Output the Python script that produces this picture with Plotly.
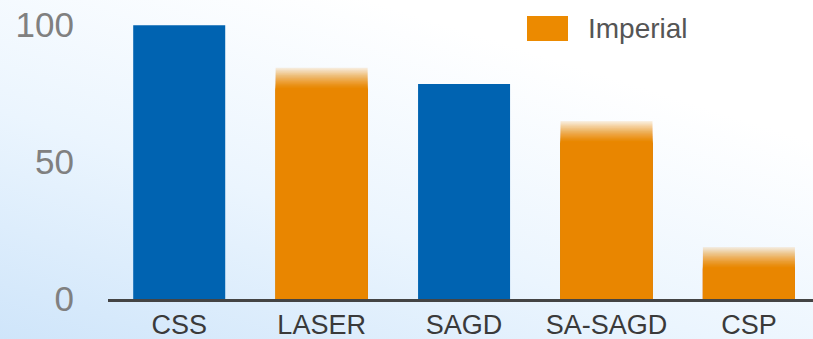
import base64
import plotly.graph_objects as go

# ---- data ----
categories = ["CSS", "LASER", "SAGD", "SA-SAGD", "CSP"]
values = [100, 84.5, 78.5, 65, 19]
is_imperial = [False, True, False, True, True]
y_tick_vals = [0, 50, 100]
y_tick_text = ["0", "50", "100"]
legend_label = "Imperial"

# ---- style ----
W, H = 813, 339
ML, MR, MT, MB = 108, 0, 0, 40
PW, PH = W - ML - MR, H - MT - MB
BLUE = (0, 99, 177)
ORANGE = (236, 138, 0)
FADE = 8.0      # depth (data units) of the faded top on orange bars
NSEG = 24

def rgba(c, a=1.0):
    return f"rgba({c[0]},{c[1]},{c[2]},{a:.4f})"

fig = go.Figure()

# blue bars
bx = [c for c, imp in zip(categories, is_imperial) if not imp]
by = [v for v, imp in zip(values, is_imperial) if not imp]
fig.add_trace(go.Bar(x=bx, y=by, marker=dict(color=rgba(BLUE), line=dict(width=0)),
                     showlegend=False, hoverinfo="x+y"))

# orange bars: solid part + faded top built from overlapping translucent layers
ox = [c for c, imp in zip(categories, is_imperial) if imp]
oy = [v for v, imp in zip(values, is_imperial) if imp]
fig.add_trace(go.Bar(x=ox, y=[v - FADE for v in oy], name=legend_label,
                     marker=dict(color=rgba(ORANGE), line=dict(width=0)),
                     showlegend=False))
h = FADE / NSEG
target = []
for j in range(NSEG):
    t = (j + 0.5) / NSEG           # 0 bottom -> 1 top
    target.append(min(1 - 0.9 * t ** 1.3, 0.997))
target.append(0.0)
for j in range(NSEG):
    a = 1 - (1 - target[j]) / (1 - target[j + 1])
    fig.add_trace(go.Bar(x=ox, y=[v - FADE + (j + 1) * h for v in oy],
                         marker=dict(color=rgba(ORANGE, max(a, 0.0)), line=dict(width=0)),
                         showlegend=False, hoverinfo="skip"))

# background gradient as an SVG image
svg = f'''<svg xmlns="http://www.w3.org/2000/svg" width="{W}" height="{H}">
<defs><linearGradient id="g" x1="0" y1="1" x2="0.65" y2="0.15">
<stop offset="0" stop-color="#cfe5fa"/><stop offset="0.5" stop-color="#ebf5fe"/><stop offset="1" stop-color="#ffffff"/>
</linearGradient></defs><rect width="{W}" height="{H}" fill="url(#g)"/></svg>'''
src = "data:image/svg+xml;base64," + base64.b64encode(svg.encode()).decode()

def px_x(p):
    return (p - ML) / PW

def px_y(p):
    return (H - MB - p) / PH

fig.add_layout_image(dict(source=src, xref="paper", yref="paper",
                          x=px_x(0), y=px_y(0), sizex=W / PW, sizey=H / PH,
                          xanchor="left", yanchor="top", sizing="stretch", layer="below"))

# custom legend
fig.add_shape(type="rect", xref="paper", yref="paper",
              x0=px_x(527), x1=px_x(568), y0=px_y(41), y1=px_y(16),
              fillcolor=rgba(ORANGE), line=dict(width=0))
fig.add_annotation(text=legend_label, xref="paper", yref="paper",
                   x=px_x(586), y=px_y(28), xanchor="left", yanchor="middle",
                   showarrow=False, font=dict(size=28, color="#555555"))

fig.update_layout(
    width=W, height=H,
    margin=dict(l=ML, r=MR, t=MT, b=MB, autoexpand=False),
    paper_bgcolor="white", plot_bgcolor="rgba(0,0,0,0)",
    barmode="overlay", bargap=0.354,
    font=dict(family="Liberation Sans, Arial, sans-serif"),
    showlegend=False,
)
fig.update_xaxes(type="category", categoryorder="array", categoryarray=categories,
                 range=[-0.5, 4.45], showline=True, linecolor="#444444", linewidth=3,
                 showgrid=False, ticks="", tickfont=dict(size=27, color="#3a3a3a"),
                 automargin=False)
fig.update_yaxes(range=[0, 109.2], tickvals=y_tick_vals, ticktext=y_tick_text,
                 showgrid=False, zeroline=False, showline=False,
                 ticks="outside", ticklen=26, tickcolor="rgba(0,0,0,0)",
                 tickfont=dict(size=35, color="#808080"), automargin=False)

fig.write_html("out.html")
